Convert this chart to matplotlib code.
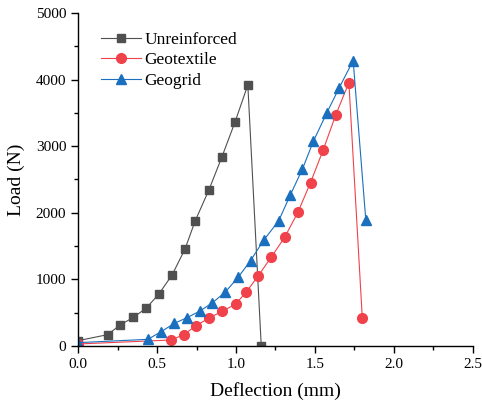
import matplotlib
matplotlib.use("Agg")
import matplotlib.pyplot as plt
from matplotlib.ticker import MultipleLocator

plt.rcParams['font.family'] = ['Liberation Serif', 'DejaVu Serif']

unre_x = [0.0, 0.187, 0.266, 0.35, 0.43, 0.51, 0.595, 0.677, 0.742, 0.828, 0.91, 0.994, 1.075, 1.16]
unre_y = [80, 170, 315, 430, 565, 775, 1065, 1455, 1880, 2340, 2833, 3363, 3918, 0]

geot_x = [0.0, 0.59, 0.669, 0.748, 0.832, 0.914, 0.998, 1.065, 1.14, 1.222, 1.308,
          1.392, 1.472, 1.553, 1.631, 1.715, 1.8]
geot_y = [30, 90, 170, 305, 425, 520, 630, 810, 1050, 1330, 1630,
          2007, 2452, 2948, 3464, 3954, 415]

geog_x = [0.0, 0.442, 0.526, 0.61, 0.69, 0.772, 0.851, 0.931, 1.013, 1.092, 1.176,
          1.27, 1.344, 1.421, 1.49, 1.574, 1.654, 1.742, 1.822]
geog_y = [50, 100, 215, 340, 425, 525, 650, 806, 1030, 1280, 1590,
          1877, 2267, 2657, 3073, 3494, 3878, 4284, 1892]

fig = plt.figure(figsize=(4.82, 4.04), dpi=100)
ax = fig.add_axes([0.162, 0.1436, 0.819, 0.8244])

ax.plot(unre_x, unre_y, color='#505050', lw=0.8, marker='s', ms=6,
        label='Unreinforced')
ax.plot(geot_x, geot_y, color='#F0424A', lw=0.8, marker='o', ms=7,
        label='Geotextile')
ax.plot(geog_x, geog_y, color='#1A6FBE', lw=0.8, marker='^', ms=7.5,
        label='Geogrid')

ax.set_xlim(0, 2.5)
ax.set_ylim(0, 5000)
ax.xaxis.set_major_locator(MultipleLocator(0.5))
ax.xaxis.set_minor_locator(MultipleLocator(0.25))
ax.yaxis.set_major_locator(MultipleLocator(1000))
ax.yaxis.set_minor_locator(MultipleLocator(500))
ax.xaxis.set_major_formatter(matplotlib.ticker.FormatStrFormatter('%.1f'))

for s in ['top', 'right']:
    ax.spines[s].set_visible(False)
for s in ['left', 'bottom']:
    ax.spines[s].set_linewidth(1.0)

ax.tick_params(which='major', direction='out', length=5, width=1, labelsize=11)
ax.tick_params(which='minor', direction='out', length=3, width=1)

ax.set_xlabel('Deflection (mm)', fontsize=14, labelpad=8)
ax.set_ylabel('Load (N)', fontsize=14, labelpad=8)

ax.legend(loc='upper left', bbox_to_anchor=(0.04, 0.965), frameon=False,
          fontsize=12.5, handlelength=2.3, handletextpad=0.2, labelspacing=0.25,
          borderaxespad=0)

fig.savefig('out.png', dpi=100)
